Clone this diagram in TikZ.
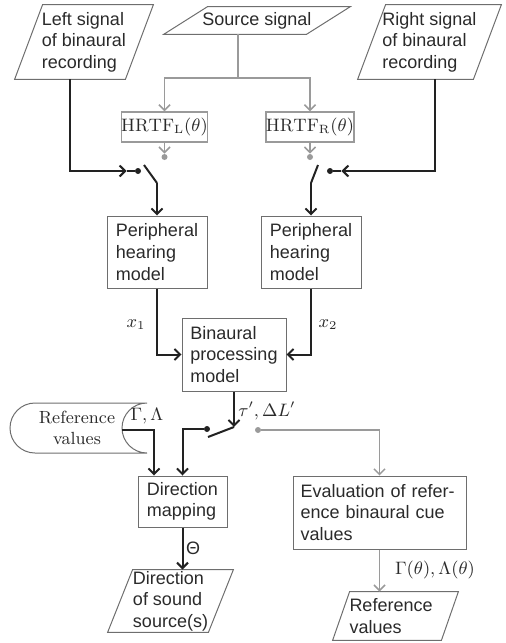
\documentclass[tikz,border=0pt]{standalone}
\usepackage{fontspec}
\setsansfont{Liberation Sans}
\usepackage{xcolor}
\usepackage{tikz}
\usetikzlibrary{positioning, arrows.meta}
\definecolor{wiredark}{HTML}{222222}
\definecolor{wiregray}{HTML}{9A9A9A}
\definecolor{boxedge}{HTML}{6E6E6E}
\definecolor{textdark}{HTML}{2A2A2A}
% slanted frame round an input/output node
\newcommand\ioframe[2]{%
  \draw[boxedge, line width=0.5pt] ([xshift=-#2]#1.south west) -- ([xshift=-#2]#1.south east)
    -- ([xshift=#2]#1.north east) -- ([xshift=#2]#1.north west) -- cycle;}
\tikzset{
  procbox/.style={draw=boxedge, line width=0.5pt, align=left, inner sep=0pt},
  iobox/.style={align=left, inner sep=0pt},
  hrtfbox/.style={draw=wiregray, line width=0.6pt, inner sep=0pt,
    minimum width=42.5pt, minimum height=15pt},
  wire/.style={draw=wiredark, line width=1pt},
  sig/.style={wire, -{Straight Barb[length=2.8pt,width=5.5pt]}},
  gwire/.style={draw=wiregray, line width=0.75pt},
  gsig/.style={gwire, -{Straight Barb[length=2.8pt,width=5.5pt]}},
  swdot/.style={circle, fill=wiredark, inner sep=0pt, minimum size=3pt},
  gswdot/.style={swdot, fill=wiregray},
  cue/.style={inner sep=1pt},
}

\begin{document}
\begin{tikzpicture}[x=0.5pt, y=-0.5pt, text=textdark,
    font=\sffamily\fontsize{9pt}{10.8pt}\selectfont]
  \useasboundingbox (0,0) rectangle (505,643);

  % inputs
  \node[iobox, minimum width=55pt, minimum height=37pt] (lsig) at (84,42)
    {Left signal\\of binaural\\recording};
  \ioframe{lsig}{7pt}
  \node[iobox, minimum width=71pt, minimum height=13.5pt] (src) at (257,20.5) {Source signal};
  \ioframe{src}{11pt}
  \node[iobox, minimum width=57.5pt, minimum height=37pt] (rsig) at (429.5,42)
    {Right signal\\of binaural\\recording};
  \ioframe{rsig}{7pt}

  % HRTF branch
  \node[hrtfbox] (hrtfL) at (164.5,127) {$\mathrm{HRTF}_\mathrm{L}(\theta)$};
  \node[hrtfbox] (hrtfR) at (310,127) {$\mathrm{HRTF}_\mathrm{R}(\theta)$};
  \coordinate (split) at (238,78);
  \draw[gwire] ([xshift=-9.5pt]src.south) -- (split);
  \draw[gsig] (split) -| (hrtfL.north);
  \draw[gsig] (split) -| (hrtfR.north);
  \node[gswdot] (gdotL) at (164.5,157) {};
  \node[gswdot] (gdotR) at (310,157) {};
  \draw[gsig] (hrtfL.south) -- (gdotL.north);
  \draw[gsig] (hrtfR.south) -- (gdotR.north);

  % ear switches
  \node[swdot] (bdotL) at (138,171) {};
  \node[swdot] (bdotR) at (330,171) {};
  \coordinate (leverL) at (144,165);
  \coordinate (pivotL) at (157,183);
  \coordinate (leverR) at (318,165);
  \coordinate (pivotR) at (311,183);
  \draw[wire] (leverL) -- (pivotL);
  \draw[wire] (leverR) -- (pivotR);
  \draw[sig] ([xshift=-7pt]lsig.south) |- ([xshift=-4pt]bdotL.west);
  \draw[wire] ([xshift=-4pt]bdotL.west) -- (bdotL);
  \draw[sig] ([xshift=2.75pt]rsig.south) |- ([xshift=4pt]bdotR.east);
  \draw[wire] ([xshift=4pt]bdotR.east) -- (bdotR);

  % hearing models
  \node[procbox, minimum width=50pt, minimum height=36pt] (perL) at (157,252)
    {Peripheral\\hearing\\model};
  \node[procbox, minimum width=50pt, minimum height=36pt] (perR) at (311,252)
    {Peripheral\\hearing\\model};
  \draw[sig] (pivotL) -- (perL.north);
  \draw[sig] (pivotR) -- (perR.north);
  \node[procbox, minimum width=52pt, minimum height=36.5pt] (bpm) at (234,354.5)
    {Binaural\\processing\\model};
  \draw[sig] (perL.south) |- (bpm.west);
  \draw[sig] (perR.south) |- (bpm.east);
  \node[cue] (lx1) at (136,325) {$x_1$};
  \node[cue] (lx2) at (328,325) {$x_2$};

  % cue switch
  \coordinate (pivotC) at (234,427);
  \coordinate (leverC) at (208,437);
  \node[swdot] (bdotC) at (207,429) {};
  \node[gswdot] (gdotC) at (258,430) {};
  \draw[sig] (bpm.south) -- (pivotC);
  \draw[wire] (pivotC) -- (leverC);
  \node[cue] (lcue) at (267,411) {$\tau', \Delta L'$};

  \node[procbox, minimum width=44.5pt, minimum height=25.5pt] (dm) at (182.5,501.5)
    {Direction\\mapping};
  \node[procbox, minimum width=86.5pt, minimum height=36.5pt, text width=79pt] (eval)
    at (379.5,512.5) {Evaluation of refer-\\ence binaural cue\\values};
  \draw[sig] (bdotC) -| (dm.north);
  \draw[gsig] (gdotC) -| (eval.north);

  % stored reference values
  \draw[boxedge, line width=0.5pt] (35,403) -- (147,403)
    arc[start angle=90, end angle=270, radius=12.5pt] -- (35,453)
    arc[start angle=270, end angle=90, radius=12.5pt] -- cycle;
  \node[font=\rmfamily\fontsize{8.8pt}{10.8pt}\selectfont, align=center] (refst) at (77,428)
    {Reference\\values};
  \coordinate (refout) at (122,430);
  \draw[sig] (refout) -| ([xshift=-14.25pt]dm.north);
  \node[cue] (lref) at (147,416) {$\Gamma, \Lambda$};

  % outputs
  \node[iobox, minimum width=50pt, minimum height=31pt] (dos) at (170.5,601)
    {Direction\\of sound\\source(s)};
  \ioframe{dos}{6.25pt}
  \draw[sig] (dm.south) -- (dm.south |- dos.north);
  \node[cue] (ltheta) at (193,548) {Θ};
  \node[iobox, minimum width=54pt, minimum height=24pt, text width=46pt] (refv) at (395.5,616)
    {Reference\\values};
  \ioframe{refv}{4.25pt}
  \draw[gsig] (eval.south) -- (eval.south |- refv.north);
  \node[cue] (lgl) at (435,570) {$\Gamma(\theta), \Lambda(\theta)$};
\end{tikzpicture}
\end{document}
